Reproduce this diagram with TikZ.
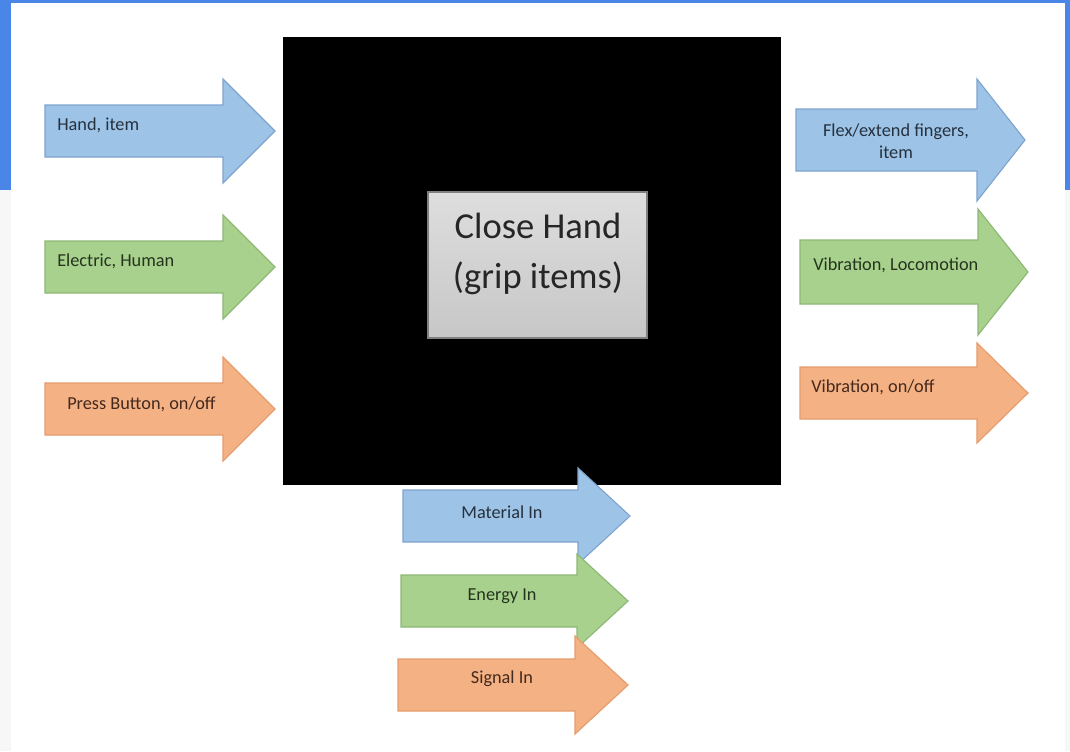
\documentclass[tikz,border=0pt]{standalone}
\usepackage{fontspec}
\setmainfont{Carlito}

\definecolor{slideblue}{HTML}{4A86E8}
\definecolor{pagegray}{HTML}{F7F7F7}
\definecolor{bluefill}{HTML}{9DC3E6}
\definecolor{blueline}{HTML}{7FA3CF}
\definecolor{bluetext}{HTML}{26313F}
\definecolor{greenfill}{HTML}{A9D18E}
\definecolor{greenline}{HTML}{8DB874}
\definecolor{greentext}{HTML}{24341D}
\definecolor{orangefill}{HTML}{F4B183}
\definecolor{orangeline}{HTML}{E59C6C}
\definecolor{orangetext}{HTML}{44291E}

\tikzset{%
  fat arrow/.style={
    line width=0.8pt,
    line join=miter
  },
  arrow blue/.style={fill=bluefill, draw=blueline},
  arrow green/.style={fill=greenfill, draw=greenline},
  arrow orange/.style={fill=orangefill, draw=orangeline},
  arrow label/.style={
    inner sep=0pt,
    font=\fontsize{13}{16}\selectfont
  },
}

\begin{document}
\begin{tikzpicture}[x=0.025cm, y=-0.025cm]

\useasboundingbox (0,0) rectangle (1070,751);

% slide background
\fill [pagegray] (0,0) rectangle (1070,751);
\fill [slideblue] (0,0) rectangle (1070,190);
\fill [white] (11,3) rectangle (1065,751);

% black box and function
\node [fill=black, inner sep=0pt, minimum width=12.45cm, minimum height=11.2cm]
  (block) at (532,261) {};
\node [draw=black!50, line width=0.8pt, top color=black!13, bottom color=black!22,
  minimum width=5.475cm, minimum height=3.65cm] (func) at (537.5,265) {};
\node [align=center, inner sep=0pt, font=\fontsize{26}{35}\selectfont, text=black!85]
  (func-text) at (538,254) {Close Hand\\(grip items)};

% arrows: name/tail/head base/tip/mid y/half shaft/half head/colour
\foreach \n/\xa/\xb/\xt/\yc/\bh/\hh/\c in {
    in-1/45/223/275/131/26/52/blue,
    in-2/45/223/275/267/26/52/green,
    in-3/45/223/275/409/26/52/orange,
    out-1/796/977/1025/140/31/61/blue,
    out-2/800/978/1028/272/32/63/green,
    out-3/800/977/1028/393/26/50/orange,
    flow-1/403/578/630/516/26/48/blue,
    flow-2/401/577/628/601/26/47/green,
    flow-3/398/575/628/685/26/49/orange}
  \draw [fat arrow, arrow \c] (\xa,\yc-\bh) -- (\xb,\yc-\bh) -- (\xb,\yc-\hh)
    -- (\xt,\yc) -- (\xb,\yc+\hh) -- (\xb,\yc+\bh) -- (\xa,\yc+\bh) -- cycle;

% labels
\node [arrow label, anchor=west, text=bluetext] (in-1-text) at (57,125) {Hand, item};
\node [arrow label, anchor=west, text=greentext] (in-2-text) at (57,261) {Electric, Human};
\node [arrow label, anchor=west, text=orangetext] (in-3-text) at (67,404) {Press Button, on/off};

\node [arrow label, align=center, text=bluetext] (out-1-text) at (896,141)
  {Flex/extend fingers,\\item};
\node [arrow label, anchor=west, text=greentext] (out-2-text) at (813,265) {Vibration, Locomotion};
\node [arrow label, anchor=west, text=orangetext] (out-3-text) at (811,387) {Vibration, on/off};

\foreach \l/\y/\c [count=\i] in {Material In/512/blue, Energy In/596/green, Signal In/679/orange}
  \node [arrow label, text=\c text] (flow-\i-text) at (502,\y) {\l};

\end{tikzpicture}
\end{document}
